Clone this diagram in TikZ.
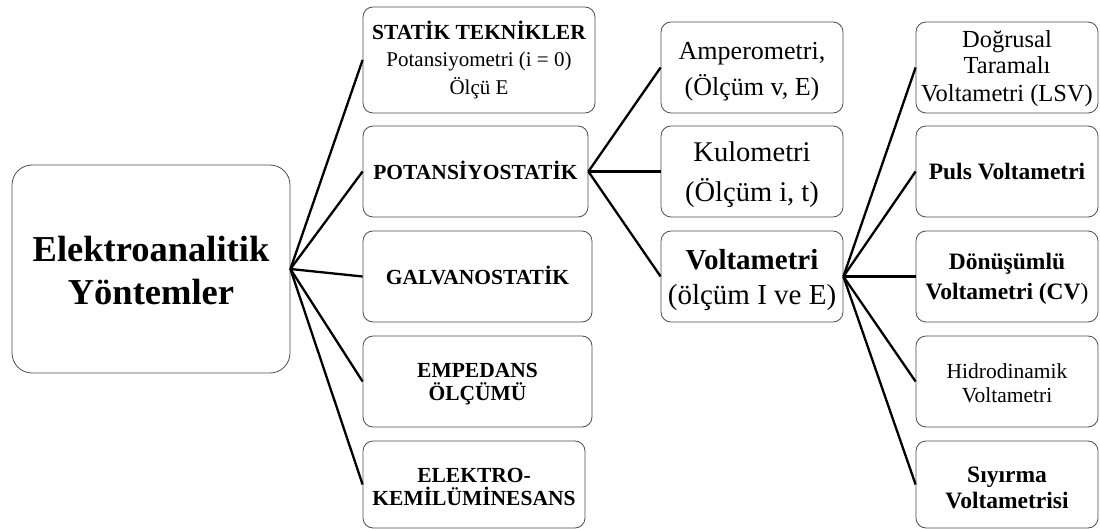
\documentclass[tikz,border=0pt]{standalone}
\usepackage{fontspec}
\setmainfont{Liberation Serif}
\newcommand{\fs}[2]{\fontsize{#1}{#2}\selectfont}
\newcommand{\tp}[1]{\rule{0pt}{#1pt}}
\newcommand{\bt}[1]{\rule[-#1pt]{0pt}{#1pt}}
\begin{document}
\begin{tikzpicture}[x=1pt,y=-1pt,
  box/.style={draw=black!70, line width=0.8pt, rectangle, rounded corners=10pt,
    inner sep=0pt, align=center},
  link/.style={line width=2.3pt, black},
  lvtwo/.style={box, minimum width=229pt, minimum height=91pt, font=\bfseries\fs{21.5}{23}},
  lvthree/.style={box, minimum width=182pt, minimum height=91pt},
  lvfour/.style={box, minimum width=182pt, minimum height=91pt}
]
\useasboundingbox (0,0) rectangle (1100,529);

% root
\node[box, rounded corners=20pt, minimum width=278pt, minimum height=208pt,
  font=\bfseries\fs{36.5}{43}] (root) at (151,269) {\tp{41}Elektroanalitik\\Yöntemler\bt{12}};

% level two
\node[lvtwo, minimum width=232pt, minimum height=106pt, font=\bfseries\fs{21.5}{27}] (statik) at (479,60)
  {\tp{23}STATİK TEKNİKLER\\\mdseries\fs{21}{27}Potansiyometri (i = 0)\\[1pt]\mdseries\fs{21}{27}Ölçü E\bt{8}};
\node[lvtwo, minimum width=225pt] (potans) at (475.5,171.5) {\tp{23}POTANSİYOSTATİK\bt{6}};
\node[lvtwo] (galv) at (477.5,276.5) {\tp{21}GALVANOSTATİK\bt{6}};
\node[lvtwo] (emp) at (477.5,381.5) {\tp{21}EMPEDANS\\ÖLÇÜMÜ\bt{7}};
\node[lvtwo, minimum width=222pt, minimum height=87pt] (elek) at (474,484.5) {\tp{25}ELEKTRO-\\KEMİLÜMİNESANS\bt{7}};

% level three
\node[lvthree, font=\fs{26}{36}] (amper) at (752,67.5) {\tp{29}Amperometri,\\(Ölçüm v, E)\bt{8}};
\node[lvthree, font=\fs{28.5}{39.5}] (kulo) at (752,171.5) {\tp{28.5}Kulometri\\(Ölçüm i, t)\bt{8}};
\node[lvthree, font=\fs{29}{35}] (volt) at (752,276.5) {\tp{30}{\bfseries Voltametri}\\(ölçüm I ve E)\bt{8}};

% level four
\node[lvfour, font=\fs{24.5}{26}] (dog) at (1007,67.5) {\tp{22}Doğrusal\\Taramalı\\[2pt]Voltametri (LSV)\bt{7}};
\node[lvfour, font=\bfseries\fs{23.5}{26}] (puls) at (1007,171.5) {\tp{23}Puls Voltametri\bt{6}};
\node[lvfour, font=\bfseries\fs{23.5}{29}] (donu) at (1007,276.5) {\tp{23}Dönüşümlü\\Voltametri (CV{\mdseries )}\bt{7}};
\node[lvfour, font=\fs{21.5}{24}] (hidro) at (1007,381.5) {\tp{23}Hidrodinamik\\Voltametri\bt{6}};
\node[lvfour, minimum height=87pt, font=\bfseries\fs{23.5}{26}] (siyir) at (1007,484.5) {\tp{28}Sıyırma\\Voltametrisi\bt{7}};

% connectors
\foreach \t in {statik,potans,galv,emp,elek}
  \draw[link] (root.east) -- (\t.west);
\foreach \t in {amper,kulo,volt}
  \draw[link] (potans.east) -- (\t.west);
\foreach \t in {dog,puls,donu,hidro,siyir}
  \draw[link] (volt.east) -- (\t.west);
\end{tikzpicture}
\end{document}
